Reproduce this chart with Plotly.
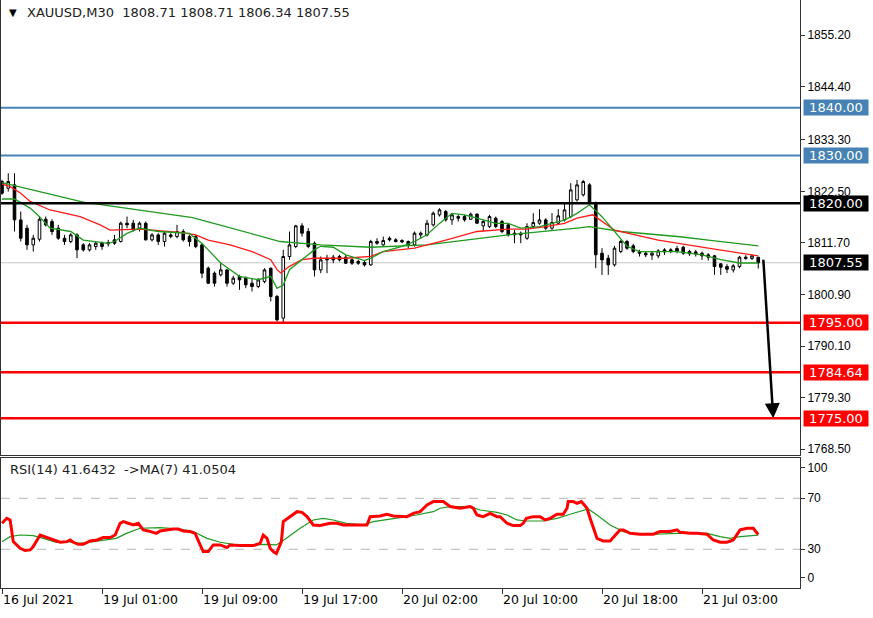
import plotly.graph_objects as go

# ---------------- data ----------------
bar_index = list(range(122))

opens = [
    1824.56, 1823.16, 1823.86, 1816.53, 1814.79, 1811.30, 1812.48, 1816.67, 1816.18, 1814.79,
    1812.69, 1812.00, 1813.39, 1811.30, 1810.25, 1810.95, 1811.65, 1811.79, 1812.35, 1812.00,
    1815.83, 1815.83, 1814.79, 1815.83, 1812.35, 1813.39, 1812.00, 1813.04, 1813.04, 1814.09,
    1813.04, 1813.04, 1811.30, 1806.41, 1805.37, 1805.02, 1806.06, 1803.27, 1804.67, 1804.32,
    1803.27, 1802.58, 1803.62, 1806.41, 1800.49, 1795.95, 1808.86, 1810.95, 1815.28, 1814.09,
    1811.65, 1806.06, 1808.51, 1808.72, 1808.86, 1808.72, 1808.16, 1807.81, 1807.60, 1807.11,
    1812.00, 1811.30, 1812.69, 1812.35, 1812.21, 1812.00, 1811.30, 1813.39, 1813.39, 1815.49,
    1817.58, 1818.28, 1816.53, 1817.23, 1817.23, 1816.67, 1817.72, 1815.28, 1815.14, 1816.88,
    1816.18, 1815.49, 1813.74, 1813.74, 1812.69, 1815.14, 1815.83, 1816.53, 1814.79, 1815.83,
    1816.53, 1817.23, 1820.72, 1821.77, 1823.86, 1820.02, 1809.55, 1808.51, 1807.11, 1809.90,
    1812.00, 1811.09, 1809.90, 1809.55, 1809.14, 1809.00, 1810.25, 1810.25, 1810.53, 1810.81,
    1809.90, 1809.83, 1809.55, 1809.21, 1809.00, 1807.32, 1806.76, 1806.06, 1806.76, 1808.72,
    1808.44, 1808.71,
]
highs = [
    1824.91, 1826.30, 1826.30, 1818.28, 1815.49, 1813.39, 1817.23, 1817.23, 1816.67, 1815.49,
    1813.39, 1813.74, 1813.74, 1811.65, 1811.65, 1812.00, 1812.00, 1812.35, 1813.39, 1816.18,
    1817.23, 1816.53, 1816.18, 1816.18, 1813.74, 1813.74, 1814.09, 1813.74, 1815.49, 1814.58,
    1813.39, 1813.39, 1811.65, 1806.76, 1805.72, 1807.46, 1806.20, 1804.81, 1805.02, 1804.67,
    1804.32, 1804.32, 1806.41, 1806.55, 1800.83, 1810.25, 1814.09, 1815.49, 1815.83, 1814.79,
    1812.00, 1808.86, 1809.21, 1809.21, 1809.21, 1809.21, 1808.51, 1808.16, 1808.16, 1812.35,
    1812.69, 1813.04, 1813.04, 1812.69, 1812.48, 1812.21, 1814.09, 1814.09, 1816.53, 1818.28,
    1818.97, 1818.63, 1817.93, 1817.58, 1817.58, 1818.07, 1817.93, 1816.53, 1817.58, 1817.23,
    1816.53, 1815.83, 1814.44, 1814.09, 1815.83, 1817.93, 1818.77, 1816.88, 1817.93, 1818.77,
    1820.02, 1824.21, 1824.91, 1824.91, 1824.21, 1820.37, 1810.60, 1809.21, 1811.09, 1812.35,
    1812.35, 1811.51, 1810.25, 1809.90, 1809.90, 1810.39, 1810.60, 1810.60, 1811.09, 1811.09,
    1810.25, 1810.25, 1809.90, 1809.55, 1809.21, 1807.46, 1807.25, 1807.25, 1809.00, 1809.14,
    1809.28, 1808.71,
]
lows = [
    1821.77, 1822.46, 1814.09, 1812.00, 1810.25, 1809.90, 1812.00, 1815.14, 1813.39, 1812.35,
    1811.30, 1811.65, 1808.51, 1809.90, 1809.90, 1810.25, 1810.25, 1810.95, 1811.30, 1811.79,
    1814.79, 1814.09, 1814.09, 1812.20, 1812.00, 1811.30, 1810.95, 1812.69, 1812.69, 1812.00,
    1810.95, 1810.60, 1804.32, 1803.10, 1802.58, 1804.67, 1802.58, 1802.92, 1801.88, 1802.23,
    1801.53, 1802.23, 1803.27, 1799.44, 1795.25, 1795.05, 1808.16, 1810.60, 1813.04, 1810.60,
    1804.67, 1805.37, 1805.37, 1807.46, 1807.81, 1807.32, 1807.11, 1807.11, 1806.76, 1806.90,
    1811.30, 1811.09, 1812.00, 1811.79, 1811.65, 1810.60, 1810.95, 1812.69, 1813.04, 1815.14,
    1817.23, 1816.18, 1815.49, 1816.18, 1816.18, 1816.53, 1815.69, 1814.09, 1814.79, 1814.79,
    1813.74, 1813.04, 1811.65, 1811.65, 1812.35, 1814.79, 1815.49, 1814.44, 1814.44, 1815.49,
    1816.18, 1816.88, 1820.37, 1821.42, 1819.67, 1806.41, 1805.02, 1805.02, 1806.76, 1809.55,
    1810.25, 1809.55, 1808.86, 1808.72, 1808.16, 1808.51, 1809.21, 1809.55, 1809.55, 1809.21,
    1809.00, 1808.86, 1808.16, 1808.02, 1805.02, 1805.02, 1805.37, 1805.51, 1806.41, 1808.16,
    1808.16, 1806.34,
]
closes = [
    1822.12, 1824.56, 1816.53, 1812.69, 1811.30, 1812.69, 1816.67, 1815.49, 1814.09, 1812.69,
    1812.00, 1813.39, 1810.25, 1810.25, 1811.30, 1811.65, 1810.95, 1811.51, 1811.65, 1815.83,
    1815.49, 1814.44, 1815.83, 1812.35, 1813.39, 1812.00, 1813.74, 1813.39, 1814.09, 1812.35,
    1812.00, 1810.95, 1805.37, 1803.27, 1803.27, 1806.06, 1803.27, 1804.32, 1803.97, 1802.92,
    1802.58, 1803.97, 1806.06, 1800.49, 1795.60, 1808.86, 1811.30, 1815.28, 1813.74, 1810.95,
    1806.06, 1808.16, 1808.16, 1808.16, 1808.16, 1807.46, 1807.46, 1807.46, 1807.11, 1812.00,
    1811.65, 1812.21, 1812.35, 1812.00, 1811.93, 1811.30, 1813.74, 1813.74, 1815.83, 1817.93,
    1818.63, 1816.53, 1817.58, 1816.88, 1816.53, 1817.72, 1815.83, 1816.18, 1817.23, 1815.14,
    1814.09, 1813.39, 1813.39, 1813.39, 1815.14, 1815.97, 1816.53, 1814.79, 1815.97, 1817.37,
    1818.63, 1822.81, 1823.86, 1824.56, 1820.02, 1809.21, 1808.16, 1807.11, 1810.60, 1812.00,
    1810.60, 1809.90, 1809.55, 1809.21, 1809.55, 1810.04, 1809.83, 1809.90, 1809.97, 1809.55,
    1809.41, 1809.41, 1809.00, 1808.72, 1806.76, 1806.62, 1806.20, 1806.90, 1808.72, 1808.44,
    1809.00, 1807.55,
]

# moving averages (bar position, price)
ma_fast_points = [
    (0, 1820.9), (2, 1820.9), (4.5, 1819.0), (6, 1817.2), (7.7, 1814.8), (11, 1814.1),
    (13, 1812.3), (16, 1811.8), (17, 1811.6), (18, 1812.0), (20, 1813.7), (22, 1814.8),
    (25, 1814.1), (30, 1813.7), (32, 1811.6), (35, 1807.5), (38, 1804.7), (41, 1804.0),
    (43, 1804.7), (44, 1802.2), (45, 1802.9), (46, 1806.1), (48, 1808.2), (50, 1810.3),
    (51, 1811.0), (53, 1810.8), (55, 1809.2), (58, 1808.0), (59, 1808.5), (61, 1809.9),
    (64, 1811.0), (66, 1812.0), (68, 1813.4), (70, 1815.8), (72, 1817.9), (74, 1817.6),
    (76, 1816.9), (79, 1815.8), (81, 1815.8), (83, 1814.8), (86, 1815.1), (88, 1815.8),
    (90, 1816.5), (92, 1817.9), (94, 1819.7), (96, 1817.2), (98, 1814.1), (100, 1811.0),
    (102, 1809.9), (108, 1809.9), (112, 1809.2), (115, 1808.2), (118, 1807.5), (121, 1807.5),
]
ma_mid_points = [
    (0, 1824.0), (1.3, 1823.5), (3, 1822.1), (4.5, 1820.4), (7.7, 1818.6), (12.5, 1817.2),
    (15.7, 1815.5), (17.3, 1814.4), (22, 1814.6), (28.5, 1813.9), (31, 1813.4), (33, 1812.3),
    (36.5, 1811.3), (40, 1809.9), (43, 1808.2), (44, 1806.1), (44.6, 1805.4), (46, 1806.8),
    (48, 1808.2), (50, 1808.5), (55, 1808.5), (59, 1808.9), (61, 1809.9), (66, 1810.6),
    (71, 1812.3), (76, 1814.1), (81, 1814.6), (84, 1814.6), (87, 1815.1), (90, 1815.8),
    (92, 1816.9), (94.5, 1817.6), (98, 1814.4), (105, 1812.3), (113, 1810.6), (121, 1809.0),
]
ma_slow_points = [
    (0, 1824.35), (13, 1820.23), (30.5, 1817.0), (38, 1814.3), (44.5, 1812.0), (51, 1811.3),
    (59, 1810.8), (68, 1811.3), (81, 1813.4), (92, 1814.8), (94, 1815.1), (99, 1814.1),
    (108.5, 1813.0), (113, 1812.3), (121, 1811.1),
]

# RSI(14) and its MA(7) (bar position, value)
rsi_points = [
    (0, 50.4), (0.75, 54.3), (1.3, 53.0), (1.8, 36.0), (2.9, 30.8), (3.7, 29.0), (4.5, 29.5),
    (5, 32.1), (6.1, 41.2), (6.9, 39.9), (7.7, 38.6), (8.2, 37.3), (9.3, 35.5), (10.4, 36.0),
    (10.9, 37.3), (11.4, 35.5), (12.2, 33.9), (13, 33.9), (14.1, 36.5), (15.2, 37.3),
    (16.2, 39.2), (17.3, 39.2), (18.1, 41.2), (18.9, 50.4), (19.4, 51.7), (20.2, 50.4),
    (21, 49.1), (21.8, 50.4), (22.6, 45.2), (23.4, 44.4), (24.7, 42.5), (25.3, 44.4),
    (26.3, 45.2), (27.4, 45.9), (28.2, 45.9), (29, 44.4), (30.1, 43.9), (30.9, 42.5),
    (31.7, 33.4), (32.2, 28.2), (33, 28.2), (33.8, 33.4), (34.9, 33.4), (36, 31.3),
    (36.5, 33.4), (38.1, 32.9), (40.2, 32.9), (41.3, 34.7), (41.8, 41.2), (42.4, 38.6),
    (42.9, 30.8), (43.4, 28.2), (43.9, 26.6), (44.7, 36.0), (45, 51.7), (46.1, 55.6),
    (47.2, 59.5), (48, 59.0), (48.8, 55.6), (49.8, 49.1), (50.9, 48.6), (52.5, 50.4),
    (53.6, 50.4), (54.6, 49.1), (56.2, 49.1), (57.8, 48.6), (58.4, 49.1), (58.9, 55.6),
    (60.5, 56.1), (61.6, 57.5), (62.6, 56.1), (64.8, 55.6), (65.8, 58.2), (66.9, 59.5),
    (68, 64.8), (69, 67.4), (70.6, 67.4), (71.7, 63.5), (73.3, 62.2), (74.9, 63.5),
    (75.4, 62.2), (76, 56.9), (77, 55.6), (78.1, 58.2), (79.2, 55.6), (79.7, 55.6),
    (80.2, 53.0), (80.8, 50.4), (81.8, 48.6), (82.9, 48.6), (83.4, 50.4), (83.9, 54.3),
    (85, 55.6), (86.1, 55.6), (86.9, 53.0), (87.7, 54.3), (88.8, 57.5), (89.8, 57.5),
    (90.4, 62.2), (90.6, 67.4), (91.4, 67.4), (92, 66.1), (92.7, 67.4), (93.6, 62.2),
    (94.1, 54.3), (94.6, 46.5), (95.2, 38.6), (96.2, 36.5), (97.3, 36.5), (98.4, 42.5),
    (98.9, 45.2), (99.4, 45.2), (100.5, 42.5), (102.1, 41.8), (104.2, 41.8), (105.3, 43.9),
    (106.9, 43.9), (108, 45.2), (108.5, 43.3), (110.1, 42.5), (111.2, 42.5), (112.8, 41.8),
    (113.8, 37.3), (114.9, 35.5), (116, 35.5), (117, 37.3), (118.1, 45.2), (119.2, 46.5),
    (120.2, 46.5), (121, 41.64),
]
rsi_ma_points = [
    (0, 36.0), (1.3, 39.9), (2.9, 41.2), (5, 40.7), (6.6, 38.6), (8.7, 35.5), (10.4, 36.0),
    (12.5, 34.7), (14.6, 36.0), (16.7, 37.3), (18.3, 38.6), (19.9, 42.5), (22.1, 46.5),
    (25.3, 47.0), (28.5, 45.9), (30.6, 43.9), (32.8, 38.6), (34.9, 35.5), (37, 33.9),
    (39.7, 33.4), (42.4, 33.9), (43.9, 33.4), (45.5, 38.6), (47.7, 46.5), (49.8, 53.0),
    (51.4, 54.3), (53, 53.0), (55.1, 50.4), (57.8, 49.1), (59.4, 51.7), (61.6, 53.0),
    (63.7, 54.8), (66.3, 56.9), (69, 59.5), (70.1, 62.2), (71.7, 63.5), (74.9, 63.5),
    (76.5, 60.8), (79.2, 59.0), (80.8, 56.9), (82.4, 53.0), (83.9, 52.2), (86.6, 52.2),
    (88.8, 54.3), (90.9, 57.5), (93, 60.8), (93.8, 61.6), (95.2, 56.9), (97.3, 49.1),
    (99.4, 43.9), (101.5, 41.8), (104.7, 41.8), (108, 42.5), (112.8, 42.5), (114.9, 39.9),
    (116.5, 38.6), (118.1, 39.9), (121, 41.05),
]
rsi_value_text = "41.6432"
rsi_ma_value_text = "41.0504"

price_ticks = [1768.50, 1779.30, 1790.10, 1800.90, 1811.70, 1822.50, 1833.30, 1844.40, 1855.20]
time_tick_bars = [0, 16, 32, 48, 64, 80, 96, 112]
time_tick_labels = ["16 Jul 2021", "19 Jul 01:00", "19 Jul 09:00", "19 Jul 17:00",
                    "20 Jul 02:00", "20 Jul 10:00", "20 Jul 18:00", "21 Jul 03:00"]
rsi_tick_vals = [7.5, 30, 70, 93.8]
rsi_tick_labels = ["0", "30", "70", "100"]
rsi_levels = [30, 70]

blue_levels = [1840.00, 1830.00]
black_levels = [1820.00]
red_levels = [1795.00, 1784.64, 1775.00]
target_level = 1775.00
arrow_from = (121.8, 1808.5)
arrow_to_bar = 123.4

symbol = "XAUUSD,M30"

# ---------------- figure ----------------
FONT_W = "DejaVu Sans"
FONT_N = "Liberation Sans"
GREEN = "#1f9a1f"
BLUE = "#4682B4"
AXC = "#333333"

fig = go.Figure()

fig.add_trace(go.Candlestick(
    x=bar_index, open=opens, high=highs, low=lows, close=closes,
    increasing=dict(line=dict(color="black", width=1), fillcolor="white"),
    decreasing=dict(line=dict(color="black", width=1), fillcolor="black"),
    whiskerwidth=0, showlegend=False, hoverinfo="skip", xaxis="x", yaxis="y",
))


def add_line(points, color, width, xa, ya):
    fig.add_trace(go.Scatter(
        x=[p[0] for p in points], y=[p[1] for p in points], mode="lines",
        line=dict(color=color, width=width), showlegend=False, hoverinfo="skip",
        xaxis=xa, yaxis=ya,
    ))


add_line(ma_slow_points, GREEN, 1.3, "x", "y")
add_line(ma_mid_points, "#ff1a1a", 1.3, "x", "y")
add_line(ma_fast_points, GREEN, 1.3, "x", "y")

add_line(rsi_ma_points, GREEN, 1.2, "x2", "y2")
add_line(rsi_points, "#ff0000", 3, "x2", "y2")

shapes = []
# current price line
shapes.append(dict(type="line", xref="x domain", yref="y", x0=0, x1=1,
                   y0=closes[-1], y1=closes[-1], line=dict(color="#c8c8c8", width=1), layer="below"))
for lv in blue_levels:
    shapes.append(dict(type="line", xref="x domain", yref="y", x0=0, x1=1, y0=lv, y1=lv,
                       line=dict(color=BLUE, width=2)))
for lv in black_levels:
    shapes.append(dict(type="line", xref="x domain", yref="y", x0=0, x1=1, y0=lv, y1=lv,
                       line=dict(color="black", width=2.5)))
for lv in red_levels:
    shapes.append(dict(type="line", xref="x domain", yref="y", x0=0, x1=1, y0=lv, y1=lv,
                       line=dict(color="#ff0000", width=2.5)))
for lv in rsi_levels:
    shapes.append(dict(type="line", xref="x2 domain", yref="y2", x0=0, x1=1, y0=lv, y1=lv,
                       line=dict(color="#b4b4b4", width=1, dash="dash"), layer="below"))

annotations = []


def tag(level, bg):
    annotations.append(dict(
        xref="paper", yref="y", x=1.0038, y=level, xanchor="left", yanchor="middle",
        text=f"{level:.2f}", showarrow=False, bgcolor=bg, width=62, height=13, borderpad=1,
        font=dict(family=FONT_W, size=13, color="white"), align="center",
    ))


for lv in blue_levels:
    tag(lv, BLUE)
for lv in black_levels:
    tag(lv, "black")
tag(closes[-1], "black")
for lv in red_levels:
    tag(lv, "#ff0000")

# header texts
annotations.append(dict(xref="paper", yref="paper", x=0.0075, y=0.978, xanchor="left", yanchor="middle",
                        text="▼", showarrow=False, font=dict(family=FONT_W, size=10, color="black")))
annotations.append(dict(
    xref="paper", yref="paper", x=0.030, y=0.978, xanchor="left", yanchor="middle", showarrow=False,
    text=f"{symbol}\u00a0\u00a0{opens[-1]:.2f} {highs[-1]:.2f} {lows[-1]:.2f} {closes[-1]:.2f}",
    font=dict(family=FONT_W, size=13, color="#222222"),
))
annotations.append(dict(
    xref="paper", yref="paper", x=0.0088, y=0.2007, xanchor="left", yanchor="middle", showarrow=False,
    text=f"RSI(14) {rsi_value_text}\u00a0\u00a0->MA(7) {rsi_ma_value_text}",
    font=dict(family=FONT_W, size=13, color="#222222"),
))
# forecast arrow
annotations.append(dict(
    xref="x", yref="y", axref="x", ayref="y", x=arrow_to_bar, y=target_level,
    ax=arrow_from[0], ay=arrow_from[1], text="", showarrow=True, arrowhead=2,
    arrowsize=1.2, arrowwidth=2.5, arrowcolor="black",
))

x_range = [-0.16, 127.68]

fig.update_layout(
    width=873, height=618,
    margin=dict(l=1, r=73, t=0, b=30),
    paper_bgcolor="white", plot_bgcolor="white",
    boxgap=0.4,
    showlegend=False,
    shapes=shapes, annotations=annotations,
    xaxis=dict(domain=[0, 1], anchor="y", range=x_range, showticklabels=False, ticks="",
               showgrid=False, zeroline=False, showline=True, linecolor=AXC, linewidth=1,
               rangeslider=dict(visible=False), fixedrange=True),
    yaxis=dict(domain=[0.2262, 1], anchor="x", side="right", range=[1767.30, 1862.57],
               tickvals=price_ticks, ticktext=[f"{v:.2f}" for v in price_ticks],
               ticks="outside", ticklen=4, tickcolor=AXC, showgrid=False, zeroline=False,
               showline=True, mirror=True, linecolor=AXC, linewidth=1,
               tickfont=dict(family=FONT_N, size=12, color="black")),
    xaxis2=dict(domain=[0, 1], anchor="y2", range=x_range, matches="x",
                tickvals=time_tick_bars, ticktext=time_tick_labels, ticks="outside", ticklen=5,
                tickcolor=AXC, ticklabelposition="outside right",
                showgrid=False, zeroline=False, showline=True, mirror=True, linecolor=AXC, linewidth=1,
                tickfont=dict(family=FONT_W, size=12.5, color="black")),
    yaxis2=dict(domain=[0, 0.2211], anchor="x2", side="right", range=[-0.35, 101.6],
                tickvals=rsi_tick_vals, ticktext=rsi_tick_labels, ticks="outside", ticklen=4,
                tickcolor=AXC, showgrid=False, zeroline=False, showline=True, mirror=True,
                linecolor=AXC, linewidth=1,
                tickfont=dict(family=FONT_N, size=12, color="black")),
)

fig.write_html(
    "out.html",
    config={"displayModeBar": False, "staticPlot": True},
    post_script="document.body.style.margin='0';document.body.style.padding='0';",
)
